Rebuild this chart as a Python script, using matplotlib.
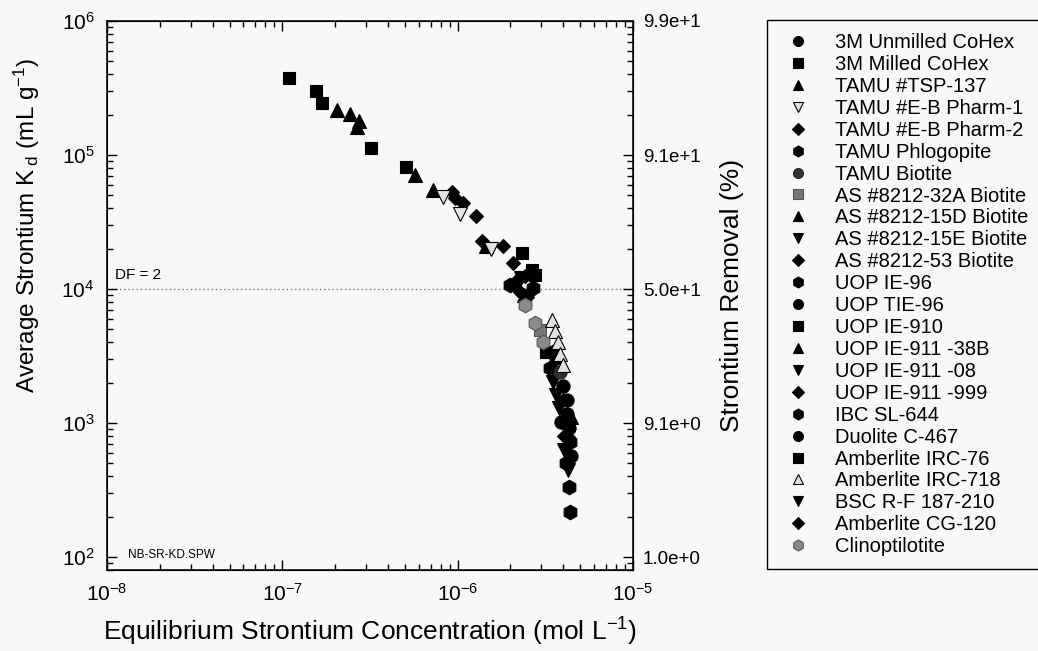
"""Kd стронция против равновесной концентрации для набора сорбентов."""
import matplotlib

matplotlib.use("Agg")
import matplotlib.pyplot as plt

plt.rcParams["font.family"] = ["Liberation Sans", "DejaVu Sans"]
plt.rcParams["mathtext.fontset"] = "custom"
plt.rcParams["mathtext.rm"] = "Liberation Sans"
plt.rcParams["mathtext.it"] = "Liberation Sans:italic"
plt.rcParams["mathtext.default"] = "regular"
plt.rcParams["axes.unicode_minus"] = False

BG = "#f8f8f8"

# Названия сорбентов в порядке легенды
NAMES = [
    "3M Unmilled CoHex",
    "3M Milled CoHex",
    "TAMU #TSP-137",
    "TAMU #E-B Pharm-1",
    "TAMU #E-B Pharm-2",
    "TAMU Phlogopite",
    "TAMU Biotite",
    "AS #8212-32A Biotite",
    "AS #8212-15D Biotite",
    "AS #8212-15E Biotite",
    "AS #8212-53 Biotite",
    "UOP IE-96",
    "UOP TIE-96",
    "UOP IE-910",
    "UOP IE-911 -38B",
    "UOP IE-911 -08",
    "UOP IE-911 -999",
    "IBC SL-644",
    "Duolite C-467",
    "Amberlite IRC-76",
    "Amberlite IRC-718",
    "BSC R-F 187-210",
    "Amberlite CG-120",
    "Clinoptilotite",
]

# Равновесная концентрация, моль/л
CONC = [
    [3.64e-6, 4.21e-6],
    [1.09e-7, 1.56e-7, 1.68e-7, 3.21e-7, 5.08e-7],
    [2.05e-7, 2.43e-7, 2.74e-7, 2.67e-7, 5.71e-7, 7.24e-7],
    [8.26e-7, 1.03e-6, 1.55e-6],
    [9.29e-7, 9.6e-7, 1.07e-6, 1.27e-6],
    [3.5e-6, 4.38e-6, 1.99e-6],
    [3.84e-6],
    [2.95e-6],
    [1.45e-6],
    [2.3e-6, 3.79e-6],
    [1.38e-6, 1.82e-6, 2.07e-6],
    [2.69e-6, 3.37e-6, 4.15e-6],
    [3.99e-6, 4.32e-6],
    [2.33e-6, 2.66e-6],
    [2.4e-6, 4.43e-6],
    [3.5e-6, 4.27e-6],
    [2.18e-6, 2.66e-6, 2.49e-6],
    [4.32e-6, 4.38e-6],
    [3.89e-6, 4.43e-6, 4.2e-6],
    [3.19e-6, 2.76e-6],
    [3.46e-6, 3.6e-6, 3.74e-6, 3.84e-6, 3.99e-6],
    [4.05e-6, 3.64e-6],
    [3.99e-6, 4.05e-6, 4.27e-6, 2.42e-6, 2.27e-6],
    [2.42e-6, 2.76e-6, 3.07e-6],
]

# Средний Kd, мл/г
KD = [
    [3.05e3, 1.17e3],
    [3.76e5, 3.0e5, 2.44e5, 1.13e5, 8.1e4],
    [2.17e5, 2.02e5, 1.79e5, 1.62e5, 7.1e4, 5.5e4],
    [4.9e4, 3.6e4, 2.0e4],
    [5.3e4, 4.8e4, 4.4e4, 3.5e4],
    [3.39e3, 721, 1.07e4],
    [2.4e3],
    [4.94e3],
    [2.1e4],
    [1.2e4, 1.29e3],
    [2.3e4, 2.1e4, 1.56e4],
    [1.02e4, 2.57e3, 502],
    [1.89e3, 918],
    [1.86e4, 1.39e4],
    [9.0e3, 1.1e3],
    [2.02e3, 446],
    [1.17e4, 9.8e3, 8.7e3],
    [333, 217],
    [1.02e3, 567, 1.49e3],
    [3.39e3, 1.27e4],
    [5.9e3, 4.9e3, 4.0e3, 3.3e3, 2.7e3],
    [629, 1.62e3],
    [1.49e3, 800, 787, 1.25e4, 9.5e3],
    [7.6e3, 5.6e3, 4.0e3],
]

# Подписи правой оси: доля удалённого стронция при DF = 2 на 10^4
KD_TICKS = [1e2, 1e3, 1e4, 1e5, 1e6]
REMOVAL_LABELS = ["1.0e+0", "9.1e+0", "5.0e+1", "9.1e+1", "9.9e+1"]

MARKERS = ["o", "s", "^", "v", "D", "h"] * 4
SIZES = {"o": 9.5, "s": 9, "^": 10, "v": 10, "D": 7.5, "h": 10.5}
FACE = {3: "#e4e4e4", 6: "#333333", 7: "#777777", 20: "#e0e0e0", 23: "#8a8a8a"}
EDGE = {6: "#222222", 7: "#555555", 23: "#555555"}

fig = plt.figure(figsize=(10.38, 6.51), dpi=100, facecolor=BG)
ax = fig.add_axes([107 / 1038, 1 - 570 / 651, 526 / 1038, 549 / 651], facecolor=BG)
ax.set_xscale("log")
ax.set_yscale("log")
ax.set_xlim(1e-8, 1e-5)
ax.set_ylim(80, 1e6)

ax.axhline(1e4, color="#808080", lw=1, ls=(0, (1, 2)), zorder=1)

handles = []
for n, name in enumerate(NAMES):
    m = MARKERS[n]
    line, = ax.plot(
        CONC[n], KD[n], ls="none", marker=m, ms=SIZES[m],
        mfc=FACE.get(n, "black"), mec=EDGE.get(n, "black"), mew=0.8,
        zorder=4 if n in FACE else 3, label=name,
    )
    handles.append(line)

ax.text(1.11e-8, 1.12e4, "DF = 2", fontsize=11, va="bottom", ha="left")
ax.text(1.32e-8, 98, "NB-SR-KD.SPW", fontsize=8.5, va="baseline", ha="left")

for side in ax.spines.values():
    side.set_linewidth(1.1)
ax.tick_params(which="both", direction="in", top=True, right=False, width=1)
ax.tick_params(which="major", length=7, labelsize=15, pad=9)
ax.tick_params(which="minor", length=4)

ax.set_xlabel(r"Equilibrium Strontium Concentration (mol L$^{-1}$)", fontsize=19, labelpad=8)
ax.set_ylabel(r"Average Strontium K$_{\;d}$ (mL g$^{-1}$)", fontsize=17.5)
ax.yaxis.set_label_coords(-0.124, 0.628)

ax2 = ax.twinx()
ax2.set_yscale("log")
ax2.set_ylim(ax.get_ylim())
ax2.set_yticks(KD_TICKS, REMOVAL_LABELS)
ax2.tick_params(which="both", direction="in", width=1)
ax2.tick_params(which="major", length=7, labelsize=13.5, pad=7)
ax2.tick_params(which="minor", length=4, labelright=False)
ax2.set_ylabel("Strontium Removal (%)", fontsize=19, labelpad=14)

leg = ax.legend(
    handles=handles, loc="upper left", mode="expand",
    bbox_to_anchor=(767 / 1038, 1 - 20 / 651, 280 / 1038, 0),
    bbox_transform=fig.transFigure, borderaxespad=0,
    fontsize=14.5, markerscale=0.75, labelspacing=0.145,
    handlelength=1.8, handletextpad=0.95, borderpad=0.65,
    fancybox=False, framealpha=1, facecolor=BG, edgecolor="black",
)
leg.get_frame().set_linewidth(1)

fig.savefig("out.png", dpi=100, facecolor=BG)
